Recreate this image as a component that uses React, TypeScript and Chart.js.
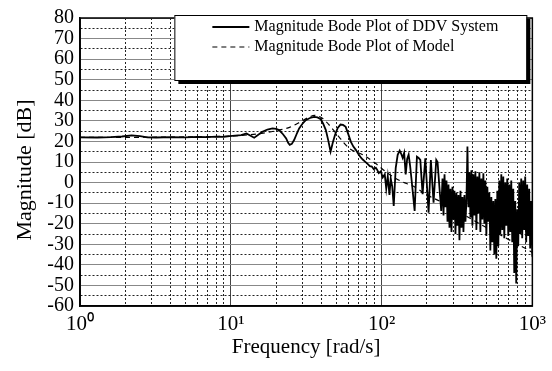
import React, { useEffect, useRef } from "react";
import { Chart, registerables } from "chart.js";

Chart.register(...registerables);

const FONT = "'Liberation Serif', 'Times New Roman', serif";

const seriesLabels = ["Magnitude Bode Plot of DDV System", "Magnitude Bode Plot of Model"];
const xTitle = "Frequency [rad/s]";
const yTitle = "Magnitude [dB]";

const xDecades = [1, 10, 100, 1000];
const xTickLabels = ["10\u2070", "10\u00b9", "10\u00b2", "10\u00b3"];
const xGridValues = [
  1, 2, 3, 4, 5, 6, 7, 8, 9,
  10, 20, 30, 40, 50, 60, 70, 80, 90,
  100, 200, 300, 400, 500, 600, 700, 800, 900, 1000,
];
const yMin = -60;
const yMax = 80;

const ddvFreq = [
  1, 1.3, 1.6, 1.9, 2.2, 2.5, 2.8, 3.2, 4, 5, 6, 7, 8, 9, 9.8, 11.7, 12.7, 14.3,
  16.2, 17.5, 18.9, 20.0, 20.9, 22.2, 23.3, 24.0, 24.6, 25.4, 26.3, 27.3, 28.4, 29.8,
  31.4, 33.5, 35.7, 37.6, 39.5, 41.0, 42.7, 44.3, 45.9, 47.5, 49.1, 51.2, 53.4, 55.5,
  57.8, 60.0, 62.5, 65.0, 67.5, 70.0, 72.8, 75.0,
  77.4, 81.1, 83.6, 86.2, 88.8, 91.6, 93.4, 95.8, 98.8, 101.8, 105.0, 107.4, 109.9,
  112.8, 115.0, 117.7, 120.4, 124.1, 127.9, 131.9, 134.9, 138.0, 141.2, 144.5, 147.8,
  151.2, 154.7, 158.3, 165.7, 171.6, 176.1, 180.7, 187.1, 195.0, 205.0, 212.3, 221.2,
  230.5, 235.1, 248.6,
  253.6, 257.5, 261.5, 265.5, 269.5, 273.7, 277.9, 282.1, 286.4, 290.8, 295.3, 299.8,
  304.4, 309.1, 313.8, 318.6, 323.6, 328.5, 333.6, 338.7, 343.9, 349.2, 354.5, 360.0,
  365.5, 371.1, 376.8, 382.5, 388.4, 394.3, 400.4, 406.5, 412.7, 419.1, 425.5, 432.0,
  438.6, 445.4, 452.2, 459.1, 466.2, 473.3, 480.6, 487.9, 495.4, 503.0, 510.7, 518.5,
  526.5, 534.6, 542.8, 551.1, 559.6, 568.1, 576.8, 585.7, 594.6, 603.7, 613.0, 622.4,
  631.9, 641.6, 651.4, 661.4, 671.5, 681.8, 692.3, 702.9, 713.7, 724.6, 735.7, 747.0,
  758.4, 770.0, 781.8, 793.8, 806.0, 818.3, 830.9, 843.6, 856.5, 869.6, 883.0, 896.5,
  910.2, 924.2, 938.4, 952.7, 967.3, 982.1, 1000,
];
const ddvMag = [
  22.0, 21.9, 22.1, 22.4, 22.9, 22.6, 22.0, 21.9, 22.1, 22.0, 22.2, 22.1, 22.3, 22.2, 22.6, 23.1, 23.9, 21.8,
  24.7, 25.8, 26.3, 26.1, 25.5, 23.5, 21.5, 19.3, 18.3, 18.8, 20.7, 23.5, 26.3, 28.5,
  30.3, 31.4, 31.9, 31.7, 30.8, 28.6, 25.5, 20.5, 15.0, 19.5, 23.1, 26.6, 28.2, 28.0,
  27.1, 23.8, 19.9, 17.5, 15.9, 14.0, 12.2, 11.2,
  10.3, 9.0, 8.0, 7.8, 6.5, 7.2, 6.3, 4.6, 5.5, 2.5, 4.0, -3.0, 3.0,
  -6.0, 2.0, -2.0, -11.4, 7.0, 13.5, 15.5, 14.0, 12.0, 14.5, 4.0, 11.5,
  13.6, 8.0, 1.0, -13.8, 12.6, 12.0, 11.0, -5.6, 11.8, -14.6, 11.0, -9.8,
  11.0, 10.0, -13.8,
  2, -16, 4, -12, 1, -19, -1, -22, -3, -24, -2, -18,
  -4, -25, -5, -21, -6, -28, -4, -22, -7, -24, -6, -19,
  -9, 17.5, -12, 5, -17, 6, -21, 4, -16, 5.5, -23, 3,
  -15, 5, -24, 2, -18, 4.5, -20, 1, -26, -2, -19, -5,
  -33, -7, -29, -9, -35, -8, -37, -4, -31, 1, -25, 4,
  -23, 3, -27, 0, -21, 2, -26, -1, -24, 1, -29, -3,
  -44, -9, -49, -13, -31, 0, -25, 2, -27, 1, -23, 3,
  -29, -1, -26, -3, -32, -9, -36,
];

const modelFreq = [
  1, 2, 5, 10, 13, 16, 20, 24, 29, 33, 36, 40, 43, 48, 52, 61, 75, 91, 110, 135, 163,
  198, 250, 320, 400, 485, 580, 693, 800, 910, 1000,
];
const modelMag = [
  22, 22, 22.2, 22.6, 23.2, 23.9, 25.2, 26.6, 29.5, 31.8, 32.7, 31.5, 29.5, 25.5, 22.3,
  16.7, 13.5, 9.4, 4.5, 0.6, -1.8, -5.8, -9.5, -14, -18, -21.5, -24.5, -27.6, -30, -32.2, -34,
];

const isDecade = (v: number | undefined) => {
  if (v === undefined || v === null || !(v > 0)) return false;
  const l = Math.log10(v);
  return Math.abs(l - Math.round(l)) < 1e-6;
};

const framePlugin = {
  id: "frameLegend",
  afterDatasetsDraw(chart: any) {
    const { ctx, chartArea } = chart;
    const a = chartArea;
    ctx.save();
    ctx.strokeStyle = "#000";
    ctx.lineWidth = 1.5;
    ctx.strokeRect(a.left, a.top, a.right - a.left, a.bottom - a.top);

    // legend box
    const lw = 352;
    const lh = 65;
    const lx = a.right - 358;
    const ly = a.top - 3;
    ctx.fillStyle = "#000";
    ctx.fillRect(lx + 4, ly + 4, lw, lh);
    ctx.fillStyle = "#fff";
    ctx.fillRect(lx, ly, lw, lh);
    ctx.strokeStyle = "#000";
    ctx.lineWidth = 1;
    ctx.strokeRect(lx + 0.5, ly + 0.5, lw, lh);

    const rows = [ly + 12, ly + 32];
    chart.data.datasets.forEach((ds: any, i: number) => {
      const y = rows[i];
      ctx.beginPath();
      ctx.strokeStyle = "#000";
      ctx.lineWidth = ds.borderWidth;
      ctx.setLineDash(ds.borderDash || []);
      ctx.moveTo(lx + 38, y);
      ctx.lineTo(lx + 75, y);
      ctx.stroke();
      ctx.setLineDash([]);
      ctx.fillStyle = "#000";
      ctx.font = `16px ${FONT}`;
      ctx.textAlign = "left";
      ctx.textBaseline = "middle";
      ctx.fillText(ds.label, lx + 80, y);
    });
    ctx.restore();
  },
  afterDraw(chart: any) {
    const { ctx, chartArea } = chart;
    ctx.save();
    ctx.translate(25, (chartArea.top + chartArea.bottom) / 2 + 8);
    ctx.rotate(-Math.PI / 2);
    ctx.font = `22px ${FONT}`;
    ctx.fillStyle = "#000";
    ctx.textAlign = "center";
    ctx.textBaseline = "middle";
    ctx.fillText(yTitle, 0, 0);
    ctx.restore();
  },
};

export default function App() {
  const ref = useRef<HTMLCanvasElement>(null);

  useEffect(() => {
    if (!ref.current) return;
    const chart = new Chart(ref.current, {
      type: "line",
      data: {
        datasets: [
          {
            label: seriesLabels[0],
            data: ddvFreq.map((f, i) => ({ x: f, y: ddvMag[i] })),
            borderColor: "#000",
            borderWidth: 1.8,
            pointRadius: 0,
            tension: 0,
            fill: false,
          },
          {
            label: seriesLabels[1],
            data: modelFreq.map((f, i) => ({ x: f, y: modelMag[i] })),
            borderColor: "#000",
            borderWidth: 1.2,
            borderDash: [5, 4],
            pointRadius: 0,
            tension: 0.4,
            cubicInterpolationMode: "monotone",
            fill: false,
          },
        ],
      },
      options: {
        animation: false,
        responsive: false,
        devicePixelRatio: 1,
        layout: { padding: { top: 15, right: 18, left: 0, bottom: 0 } },
        plugins: {
          legend: { display: false },
          tooltip: { enabled: false },
        },
        scales: {
          x: {
            type: "logarithmic",
            min: 1,
            max: 1000,
            afterBuildTicks: (scale: any) => {
              scale.ticks = xGridValues.map((v) => ({ value: v, major: isDecade(v) }));
            },
            afterFit: (scale: any) => {
              scale.height = 65;
            },
            ticks: {
              autoSkip: false,
              maxRotation: 0,
              minRotation: 0,
              padding: 6,
              color: "#000",
              font: { family: FONT, size: 21 },
              callback: (value: any) => {
                const idx = xDecades.findIndex((d) => Math.abs(d - Number(value)) < 1e-6 * d);
                return idx >= 0 ? xTickLabels[idx] : "";
              },
            },
            grid: {
              drawTicks: false,
              lineWidth: 1,
              color: (c: any) => (isDecade(c.tick?.value) ? "#444" : "#222"),
            },
            border: {
              display: true,
              color: "#000",
              width: 1.5,
              dash: (c: any) => (c.tick && !isDecade(c.tick.value) ? [2, 2] : []),
            },
            title: {
              display: true,
              text: xTitle,
              color: "#000",
              font: { family: FONT, size: 21 },
              padding: { top: 0, bottom: 11 },
            },
          },
          y: {
            min: yMin,
            max: yMax,
            afterFit: (scale: any) => {
              scale.width = 80;
            },
            ticks: {
              stepSize: 5,
              autoSkip: false,
              padding: 6,
              color: "#000",
              font: { family: FONT, size: 20 },
              callback: (value: any) => (Number(value) % 10 === 0 ? String(value) : ""),
            },
            grid: {
              drawTicks: false,
              lineWidth: 1,
              color: (c: any) => (c.tick && c.tick.value % 10 === 0 ? "#888" : "#222"),
            },
            border: {
              display: true,
              color: "#000",
              width: 1.5,
              dash: (c: any) => (c.tick && c.tick.value % 10 !== 0 ? [2, 2] : []),
            },
          },
        },
      },
      plugins: [framePlugin],
    } as any);
    return () => chart.destroy();
  }, []);

  return (
    <div style={{ position: "fixed", left: 0, top: 0, width: 552, height: 371, background: "#fff" }}>
      <canvas ref={ref} width={552} height={371} style={{ display: "block", width: 552, height: 371 }} />
    </div>
  );
}
